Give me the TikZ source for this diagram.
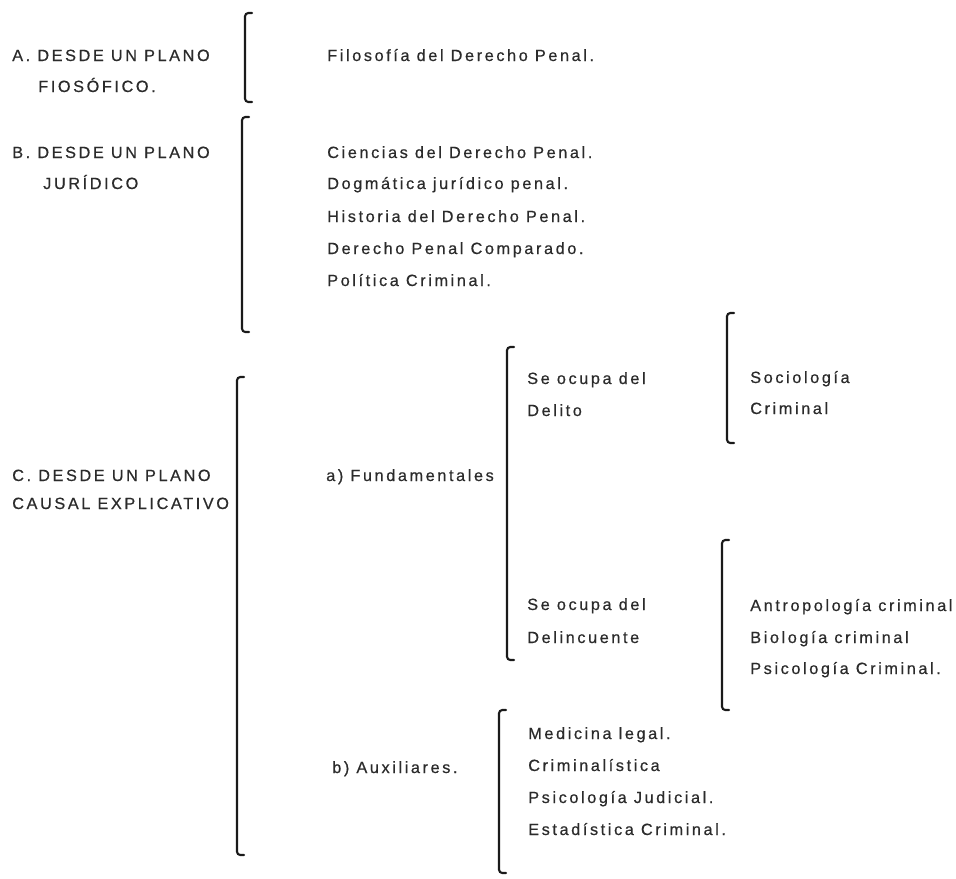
\documentclass[tikz,border=0pt]{standalone}
\usepackage{fontspec}
\setmainfont{Liberation Sans}[LetterSpace=16,FakeBold=0.6]
\definecolor{ink}{HTML}{2B2B2B}
\definecolor{brk}{HTML}{1A1A1A}
\tikzset{
  lbl/.style={anchor=base west, inner sep=0pt, text=ink, font=\fontsize{12.2}{14}\selectfont},
  brack/.style={draw=brk, line width=1.6pt, rounded corners=2.5pt, line cap=round}
}
\newcommand{\mybracket}[4]{% name, x, top, bottom
  \coordinate (#1t) at (#2+7,#3);
  \coordinate (#1b) at (#2+7,#4);
  \draw[brack] (#1t) -- (#2,#3) -- (#2,#4) -- (#1b);
}
\begin{document}
\begin{tikzpicture}[x=0.75pt,y=-0.75pt]
\useasboundingbox (0,0) rectangle (956,878);
% A
\node[lbl] (a1) at (12,61) {A. DESDE UN PLANO};
\node[lbl] (a2) at (38,92) {FIOSÓFICO.};
\mybracket{bA}{245}{13}{102}
\node[lbl] (fil) at (327,61) {Filosofía del Derecho Penal.};
% B
\node[lbl] (b1) at (12,158) {B. DESDE UN PLANO};
\node[lbl] (b2) at (43,189) {JURÍDICO};
\mybracket{bB}{242}{117}{332}
\node[lbl] (bi1) at (327,158) {Ciencias del Derecho Penal.};
\node[lbl] (bi2) at (327,189) {Dogmática jurídico penal.};
\node[lbl] (bi3) at (327,222) {Historia del Derecho Penal.};
\node[lbl] (bi4) at (327,254) {Derecho Penal Comparado.};
\node[lbl] (bi5) at (327,286) {Política Criminal.};
% C
\node[lbl] (c1) at (12,481) {C. DESDE UN PLANO};
\node[lbl] (c2) at (12,509) {CAUSAL EXPLICATIVO};
\mybracket{bC}{237}{377}{855}
\node[lbl] (fund) at (326,481) {a) Fundamentales};
\mybracket{bF}{507}{347}{660}
\node[lbl] (s1) at (527,384) {Se ocupa del};
\node[lbl] (s2) at (527,416) {Delito};
\mybracket{bS}{727}{313}{443}
\node[lbl] (so1) at (750,383) {Sociología};
\node[lbl] (so2) at (750,414) {Criminal};
\node[lbl] (d1) at (527,610) {Se ocupa del};
\node[lbl] (d2) at (527,643) {Delincuente};
\mybracket{bD}{722}{540}{710}
\node[lbl] (an1) at (750,611) {Antropología criminal};
\node[lbl] (an2) at (750,643) {Biología criminal};
\node[lbl] (an3) at (750,674) {Psicología Criminal.};
\node[lbl] (aux) at (332,773) {b) Auxiliares.};
\mybracket{bX}{499}{710}{873}
\node[lbl] (x1) at (528,739) {Medicina legal.};
\node[lbl] (x2) at (528,771) {Criminalística};
\node[lbl] (x3) at (528,803) {Psicología Judicial.};
\node[lbl] (x4) at (528,835) {Estadística Criminal.};
\end{tikzpicture}
\end{document}
